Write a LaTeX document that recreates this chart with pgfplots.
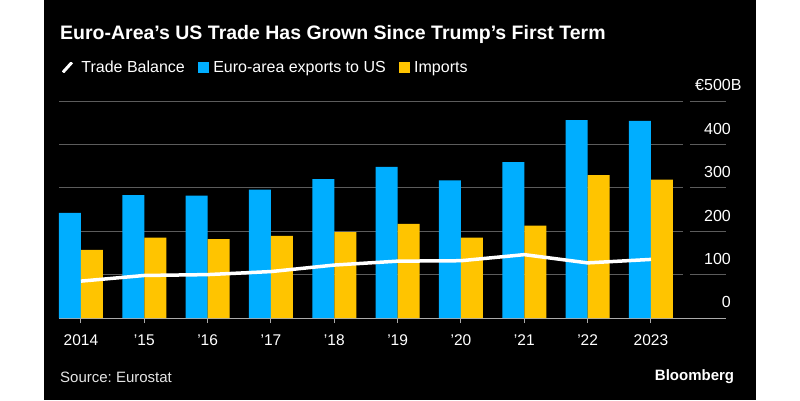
\documentclass[border=0pt]{standalone}
\usepackage{fontspec}
\setmainfont{Liberation Sans}
\usepackage{pgfplots}
\pgfplotsset{compat=1.18}
\definecolor{cblue}{RGB}{0,174,255}
\definecolor{cyellow}{RGB}{255,196,0}
\definecolor{cgrid}{RGB}{92,92,92}
\definecolor{cbase}{RGB}{170,170,170}
\frenchspacing
\begin{document}
\begin{tikzpicture}[x=1pt,y=1pt]
\fill[white] (0,0) rectangle (800,400);
\fill[black] (44,0) rectangle (756,400);
\node[anchor=base west, text=white, font=\fontsize{19.5pt}{23pt}\selectfont\bfseries, inner sep=0pt] at (60,360) {Euro-Area's US Trade Has Grown Since Trump's First Term};
\node[anchor=base west, text=white!90!black, font=\fontsize{15pt}{18pt}\selectfont, inner sep=0pt] at (60,17.3) {Source: Eurostat};
\node[anchor=base east, text=white, font=\fontsize{15pt}{18pt}\selectfont\bfseries, inner sep=0pt] at (734.3,19.3) {Bloomberg};
\begin{axis}[
  at={(59pt,82pt)}, anchor=south west,
  scale only axis, width=667pt, height=217pt,
  xmin=-0.347, xmax=10.185, ymin=0, ymax=500,
  axis x line=bottom, axis y line=right,
  axis line style={-},
  x axis line style={cbase, line width=1pt},
  y axis line style={draw=none},
  xtick={0,...,9},
  xticklabels={2014,'15,'16,'17,'18,'19,'20,'21,'22,2023},
  xtick style={cbase, line width=1pt},
  tick align=outside,
  major tick length=5pt,
  ytick={0,100,200,300,400,500},
  yticklabels={0,100,200,300,400,€500\rlap{B}},
  ytick style={draw=none},
  /pgf/number format/assume math mode=true,
  xticklabel style={anchor=base, yshift=-22.7pt, text=white, font=\fontsize{15.5pt}{18pt}\selectfont},
  yticklabel style={anchor=south east, inner sep=0pt, yshift=9.7pt, text=white, font=\fontsize{16pt}{19pt}\selectfont},
  clip=false,
  legend columns=-1,
  legend style={at={(axis description cs:0.00255,1.155)}, anchor=west, draw=none, fill=none, text=white,
    font=\fontsize{16pt}{19pt}\selectfont, inner sep=0pt, nodes={inner sep=0pt},
    /tikz/every odd column/.append style={column sep=4.5pt},
    /tikz/every even column/.append style={column sep=13.5pt}},
]
\addlegendimage{legend image code/.code={\draw[white, line width=3pt] (1.8pt,-5pt) -- (10.8pt,5pt); \path (0pt,-6pt) rectangle (15.6pt,6pt);}}
\addlegendentry{Trade Balance}
\addlegendimage{legend image code/.code={\fill[cblue] (0pt,-5pt) rectangle (10pt,5pt);}}
\addlegendentry{Euro-area exports to US}
\addlegendimage{legend image code/.code={\fill[cyellow] (0pt,-5pt) rectangle (10pt,5pt);}}
\addlegendentry{Imports}

\pgfplotsinvokeforeach{100,200,300,400,500}{
  \draw[cgrid, line width=1pt] (axis cs:-0.347,#1) -- (axis cs:9.506,#1);
  \draw[cgrid, line width=1pt] (axis cs:9.616,#1) -- (axis cs:10.185,#1);
}

% Euro-area exports to US
\addplot[ybar, bar width=22pt, bar shift=-11pt, fill=cblue, draw=none, forget plot] coordinates {
(0,242) (1,283) (2,282) (3,296) (4,320) (5,348) (6,317) (7,359) (8,456) (9,454)
};
% Imports
\addplot[ybar, bar width=22pt, bar shift=11pt, fill=cyellow, draw=none, forget plot] coordinates {
(0,157) (1,185) (2,182) (3,189) (4,198) (5,217) (6,185) (7,213) (8,329) (9,319)
};
% Trade balance
\addplot[white, line width=3.5pt, line join=round, mark=none, forget plot] coordinates {
(0,85) (1,98) (2,100) (3,107) (4,122) (5,131) (6,132) (7,146) (8,127) (9,135)
};
\end{axis}
\end{tikzpicture}
\end{document}
